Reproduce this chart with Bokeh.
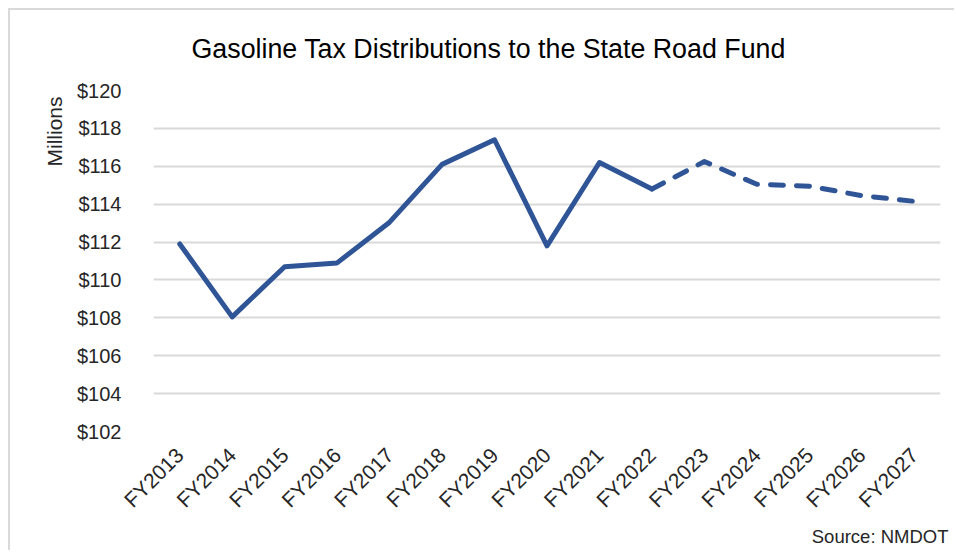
import math
from bokeh.plotting import figure
from bokeh.models import Range1d, FactorRange, Title, FixedTicker, NumeralTickFormatter
from bokeh.embed import file_html
from bokeh.resources import INLINE

# ---- data ----
years = ["FY2013", "FY2014", "FY2015", "FY2016", "FY2017", "FY2018", "FY2019",
         "FY2020", "FY2021", "FY2022", "FY2023", "FY2024", "FY2025", "FY2026", "FY2027"]
distributions = [111.9, 108.05, 110.7, 110.9, 113.05, 116.1, 117.4,
                 111.8, 116.2, 114.8, 116.25, 115.05, 114.95, 114.45, 114.15]
last_actual = "FY2022"
y_ticks = [102, 104, 106, 108, 110, 112, 114, 116, 118, 120]

title_text = "Gasoline Tax Distributions to the State Road Fund"
y_label_text = "Millions"
source_text = "Source: NMDOT"

FONT = "Liberation Sans"
BLUE = "#2F5597"
GRID = "#d9d9d9"
TXT = "#262626"

split = years.index(last_actual)

p = figure(x_range=FactorRange(*years, range_padding=0),
           y_range=Range1d(y_ticks[0], y_ticks[-1]),
           width=946, height=542,
           output_backend="svg", toolbar_location=None,
           min_border_left=143, min_border_right=16,
           min_border_top=80, min_border_bottom=119)
p.styles = {"margin-left": "8px", "margin-top": "8px",
            "border-left": "2px solid #d9d9d9", "border-top": "2px solid #d9d9d9"}
p.outline_line_color = None
p.background_fill_color = "white"
p.border_fill_color = "white"

# small spacer between frame and title
p.add_layout(Title(text=" ", text_font_size="1px", standoff=6), "above")

p.title.text = title_text
p.title.align = "left"
p.title.offset = 38
p.title.text_font = FONT
p.title.text_font_size = "26.8px"
p.title.text_font_style = "normal"
p.title.text_color = "#000000"
p.title.standoff = 36

# y axis
p.yaxis.ticker = FixedTicker(ticks=y_ticks)
p.yaxis.formatter = NumeralTickFormatter(format="$0")
p.yaxis.axis_line_color = None
p.yaxis.major_tick_line_color = None
p.yaxis.minor_tick_line_color = None
p.yaxis.major_label_standoff = 26
p.yaxis.major_label_text_font = FONT
p.yaxis.major_label_text_font_size = "20px"
p.yaxis.major_label_text_color = TXT

# x axis
p.xaxis.axis_line_color = None
p.xaxis.major_tick_line_color = None
p.xaxis.minor_tick_line_color = None
p.xaxis.major_label_orientation = math.pi / 4
p.xaxis.major_label_standoff = 14
p.xaxis.major_label_text_font = FONT
p.xaxis.major_label_text_font_size = "21px"
p.xaxis.major_label_text_color = TXT

p.xgrid.grid_line_color = None
p.ygrid.grid_line_color = GRID
p.ygrid.grid_line_width = 2

# lines
p.line(x=years[:split + 1], y=distributions[:split + 1], line_color=BLUE,
       line_width=5, line_join="round", line_cap="round")
p.line(x=years[split:], y=distributions[split:], line_color=BLUE,
       line_width=5, line_join="round", line_cap="round", line_dash="13 13")

# y label, placed at the top of the axis like the reference
p.add_layout(Title(text=y_label_text, align="right", offset=6, standoff=18,
                   vertical_align="bottom", text_font=FONT, text_font_size="21px",
                   text_font_style="normal", text_color=TXT), "left")

# source note
p.add_layout(Title(text=source_text, align="right", offset=-8, standoff=7,
                   vertical_align="top", text_font=FONT, text_font_size="18.5px",
                   text_font_style="normal", text_color=TXT), "below")

open("out.html", "w").write(file_html(p, INLINE))
